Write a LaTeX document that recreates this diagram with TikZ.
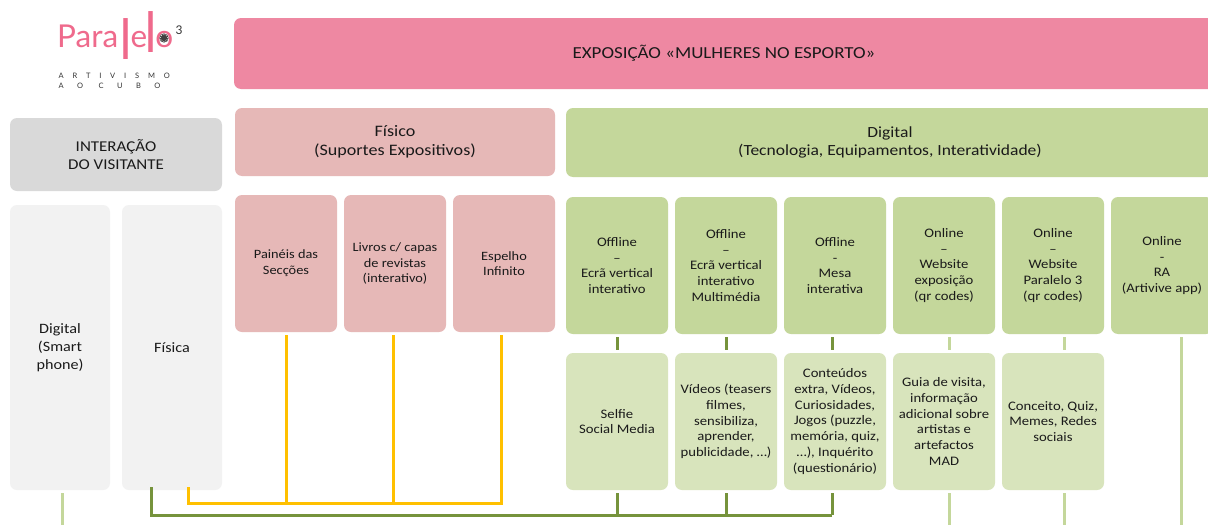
\documentclass[tikz,border=0pt]{standalone}
\usepackage{graphicx}
\usepackage{fontspec}
\setmainfont[FakeStretch=1.13]{Carlito}
\newfontfamily\logofont{Lato}
\newfontfamily\tagfont[LetterSpace=118]{Lato}
\newfontfamily\tagfontb[LetterSpace=180]{Lato}
\definecolor{bannerc}{HTML}{EE88A2}
\definecolor{greyc}{HTML}{D9D9D9}
\definecolor{palec}{HTML}{F2F2F2}
\definecolor{pinkc}{HTML}{E6B8B7}
\definecolor{greenc}{HTML}{C4D79B}
\definecolor{lightc}{HTML}{D8E4BC}
\definecolor{dgreen}{HTML}{76933C}
\definecolor{yel}{HTML}{FFC000}
\definecolor{logoc}{HTML}{EF6A8C}
\definecolor{txt}{HTML}{1A1A1A}
\tikzset{
  box/.style={draw=none,rounded corners=7pt,inner sep=0pt,outer sep=0pt,align=center,text=txt,font=\fontsize{13}{15.7}\selectfont},
  pinkbox/.style={box,fill=pinkc,font=\fontsize{12.7}{15.7}\selectfont},
  bigbox/.style={box,font=\fontsize{15.5}{18.5}\selectfont},
  lnyel/.style={draw=yel,line width=3pt},
  lndark/.style={draw=dgreen,line width=3pt},
  lnlight/.style={draw=greenc,line width=3pt}
}
% name, x1, y1, x2, y2, style, text
\newcommand{\bx}[7]{\node[#6,minimum width=#4pt-#2pt,minimum height=#5pt-#3pt] (#1) at ({(#2+#4)/2},{(#3+#5)/2}) {#7};}
\newcommand{\tallel}[1]{\raisebox{#1}{\scalebox{1.15}[1.75]{\bfseries l}}}
\begin{document}
\begin{tikzpicture}[x=1pt,y=-1pt]
\clip (0,0) rectangle (1208,525);
\fill[white] (0,0) rectangle (1208,525);
% logo
\node[inner sep=0pt,anchor=base west,text=logoc,font=\logofont\fontsize{31.5}{31.5}\selectfont] (logo) at (57,47) {Para\kern3pt\tallel{-12pt}\kern0.5pt e\kern-0.5pt\tallel{-5pt}\kern-0.5pt o};
\fill[black!75] (164,38) circle (4.6pt);
\draw[white,line width=0.6pt,dash pattern=on 0.8pt off 1.2pt] (164,38) circle (3.6pt);
\node[inner sep=0pt,text=black!80,font=\logofont\fontsize{12}{12}\selectfont] (three) at (179,30) {3};
\node[inner sep=0pt,anchor=base west,text=black!80,font=\tagfont\fontsize{7.5}{7.5}\selectfont] (tag1) at (58.5,78) {ARTIVISMO};
\node[inner sep=0pt,anchor=base west,text=black!80,font=\tagfontb\fontsize{7.5}{7.5}\selectfont] (tag2) at (58.5,88) {AO CUBO};
% headers
\bx{banner}{234}{18}{1230}{89}{bigbox,fill=bannerc}{}
\node[inner sep=0pt,text=txt,font=\fontsize{16.8}{19}\selectfont] (bannertext) at (724,53) {EXPOSIÇÃO «MULHERES NO ESPORTO»};
\bx{inter}{10}{118}{222}{191}{box,fill=greyc,font=\fontsize{15}{18.5}\selectfont}{INTERAÇÃO\\DO VISITANTE}
\bx{fisico}{235}{108}{555}{176}{box,fill=pinkc,font=\fontsize{16}{18.5}\selectfont}{Físico\\(Suportes Expositivos)}
\bx{digital}{566}{108}{1214}{177}{bigbox,fill=greenc}{Digital\\(Tecnologia, Equipamentos, Interatividade)}
% visitor
\bx{vdig}{10}{205}{110}{490}{box,fill=palec,font=\fontsize{14.3}{18}\selectfont}{Digital\\(Smart\\phone)}
\bx{vfis}{122}{205}{222}{490}{box,fill=palec,font=\fontsize{14.3}{18}\selectfont}{Física}
% physical
\bx{p1}{235}{195}{337}{332}{pinkbox}{Painéis das\\Secções}
\bx{p2}{344}{195}{446}{332}{pinkbox}{Livros c/ capas\\de revistas\\(interativo)}
\bx{p3}{453}{195}{555}{332}{pinkbox}{Espelho\\Infinito}
% digital
\bx{d1}{566}{197}{668}{334}{box,fill=greenc}{Offline\\–\\Ecrã vertical\\interativo}
\bx{d2}{675}{197}{777}{334}{box,fill=greenc}{Offline\\–\\Ecrã vertical\\interativo\\Multimédia}
\bx{d3}{784}{197}{886}{334}{box,fill=greenc}{Offline\\-\\Mesa\\interativa}
\bx{d4}{893}{197}{995}{334}{box,fill=greenc}{Online\\–\\Website\\exposição\\(qr codes)}
\bx{d5}{1002}{197}{1104}{334}{box,fill=greenc}{Online\\–\\Website\\Paralelo 3\\(qr codes)}
\bx{d6}{1111}{197}{1213}{334}{box,fill=greenc}{Online\\-\\RA\\(Artivive app)}
% contents
\bx{c1}{566}{353}{668}{490}{box,fill=lightc}{Selfie\\Social Media}
\bx{c2}{675}{353}{777}{490}{box,fill=lightc}{Vídeos (teasers\\filmes,\\sensibiliza,\\aprender,\\publicidade, …)}
\bx{c3}{784}{353}{886}{490}{box,fill=lightc}{Conteúdos\\extra, Vídeos,\\Curiosidades,\\Jogos (puzzle,\\memória, quiz,\\…), Inquérito\\(questionário)}
\bx{c4}{893}{353}{995}{490}{box,fill=lightc}{Guia de visita,\\informação\\adicional sobre\\artistas e\\artefactos\\MAD}
\bx{c5}{1002}{353}{1104}{490}{box,fill=lightc}{Conceito, Quiz,\\Memes, Redes\\sociais}
% rails and connector columns
\coordinate (yrail) at (0,503);
\coordinate (grail) at (0,515);
\coordinate (bottom) at (0,525);
\coordinate (vfisy) at (188,490);
\coordinate (vfisg) at (151,490);
\coordinate (x3) at (832,0);
\coordinate (x4) at (949,0);
\coordinate (x5) at (1064,0);
\coordinate (x6) at (1181,334);
\coordinate (yp2) at (393,332);
\coordinate (yp3) at (501,332);
% stubs between digital rows
\draw[lndark,shorten <=3pt,shorten >=3pt] (c1.north |- d1.south) -- (c1.north);
\draw[lndark,shorten <=3pt,shorten >=3pt] (c2.north |- d2.south) -- (c2.north);
\draw[lndark,shorten <=3pt,shorten >=3pt] (x3 |- d3.south) -- (x3 |- c3.north);
\draw[lnlight,shorten <=3pt,shorten >=3pt] (x4 |- d4.south) -- (x4 |- c4.north);
\draw[lnlight,shorten <=3pt,shorten >=3pt] (x5 |- d5.south) -- (x5 |- c5.north);
% light lines
\draw[lnlight,shorten <=3pt] ([xshift=2pt]vdig.south) -- ([xshift=2pt]vdig.south |- bottom);
\draw[lnlight,shorten <=3pt] (x4 |- c4.south) -- (x4 |- bottom);
\draw[lnlight,shorten <=3pt] (x5 |- c5.south) -- (x5 |- bottom);
\draw[lnlight,shorten <=3pt] (x6) -- (x6 |- bottom);
% yellow bus
\draw[lnyel,shorten <=3pt] (p1.south) -- (p1.south |- yrail);
\draw[lnyel,shorten <=3pt] (yp2) -- (yp2 |- yrail);
\draw[lnyel,shorten <=3pt,line join=miter] (yp3) -- (yp3 |- yrail) -- (vfisy |- yrail) -- ([yshift=3pt]vfisy);
% green bus
\draw[lndark,line join=miter] (x3 |- grail) -- (vfisg |- grail) -- ([yshift=3pt]vfisg);
\draw[lndark,shorten <=3pt] (c1.south) -- (c1.south |- grail);
\draw[lndark,shorten <=3pt] (c2.south) -- (c2.south |- grail);
\draw[lndark,shorten <=3pt] (x3 |- c3.south) -- (x3 |- grail);
\end{tikzpicture}
\end{document}
